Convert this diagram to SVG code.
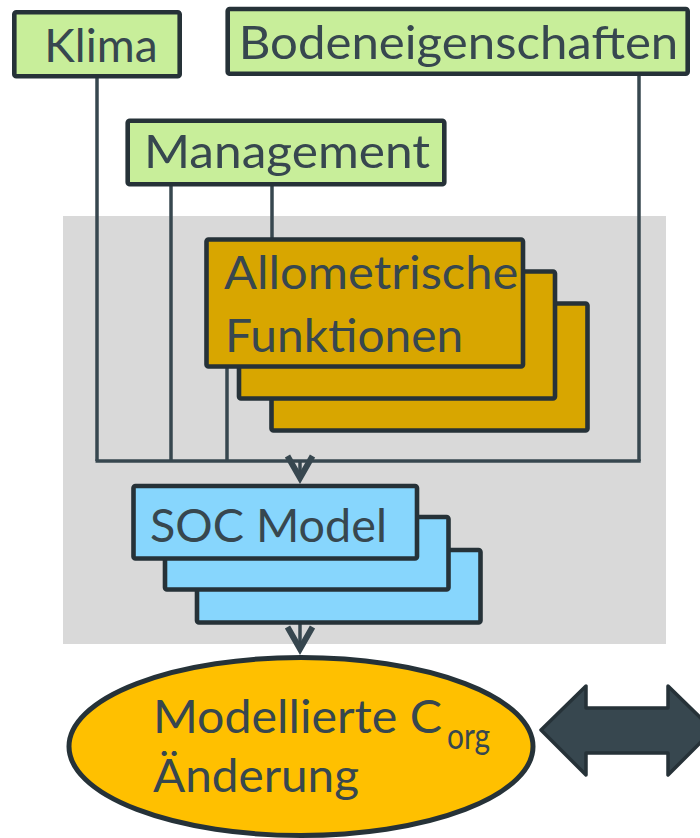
<svg xmlns="http://www.w3.org/2000/svg" width="700" height="838" viewBox="0 0 700 838">
<defs>
<style>
.lbl{font-family:Lato,"Open Sans","Liberation Sans",sans-serif;font-size:47px;fill:#37474f}
.box{stroke:#263238;stroke-width:4.6;stroke-linejoin:round}
.green{fill:#c8ee9a}
.allo{fill:#d8a600}
.soc{fill:#87d6fd}
.conn{fill:none;stroke:#37474f;stroke-width:3.5}
</style>
<marker id="arr" markerUnits="userSpaceOnUse" viewBox="-30 -18 40 36" markerWidth="40" markerHeight="36" refX="0" refY="0" orient="auto" overflow="visible">
<path d="M-22,-12.5 L0,0 L-22,12.5" fill="none" stroke="#37474f" stroke-width="6" stroke-linejoin="miter"/>
</marker>
</defs>
<rect id="panel" x="63" y="216" width="603" height="428" fill="#d9d9d9"/>
<g id="connectors">
<path class="conn" d="M97,77 V461"/>
<path class="conn" d="M171,185 V461"/>
<path class="conn" d="M272,185 V238"/>
<path class="conn" d="M227,368 V461"/>
<path class="conn" d="M639,75 V461"/>
<path class="conn" d="M95.5,461 H640.7"/>
<path class="conn" d="M300,461 V478" stroke-width="4" marker-end="url(#arr)"/>
<path class="conn" d="M300,624 V649" stroke-width="4" marker-end="url(#arr)"/>
</g>
<g id="klima">
<rect class="box green" x="14.3" y="12.3" width="165.4" height="64" rx="2"/>
<text class="lbl" x="44.3" y="62.3" textLength="113.4" lengthAdjust="spacingAndGlyphs">Klima</text>
</g>
<g id="bodeneigenschaften">
<rect class="box green" x="227.7" y="9" width="460" height="64.7" rx="2"/>
<text class="lbl" x="238.7" y="59.3" textLength="439.6" lengthAdjust="spacingAndGlyphs">Bodeneigenschaften</text>
</g>
<g id="management">
<rect class="box green" x="127.7" y="120.7" width="316.6" height="63.6" rx="2"/>
<text class="lbl" x="144" y="168.3" textLength="286" lengthAdjust="spacingAndGlyphs">Management</text>
</g>
<g id="allometrische">
<rect class="box allo" x="271.5" y="303.5" width="316" height="127" rx="2"/>
<rect class="box allo" x="239" y="271.5" width="316" height="127" rx="2"/>
<rect class="box allo" x="206.5" y="239.5" width="316.5" height="127" rx="2"/>
<text class="lbl" x="224" y="289" textLength="294.3" lengthAdjust="spacingAndGlyphs">Allometrische</text>
<text class="lbl" x="225" y="352" textLength="238.3" lengthAdjust="spacingAndGlyphs">Funktionen</text>
</g>
<g id="soc-model">
<rect class="box soc" x="197" y="550" width="283.5" height="72.5" rx="2"/>
<rect class="box soc" x="165" y="517" width="283.5" height="72.5" rx="2"/>
<rect class="box soc" x="133.5" y="486" width="283.5" height="72.5" rx="2"/>
<text class="lbl" x="150" y="542.3" textLength="237" lengthAdjust="spacingAndGlyphs">SOC Model</text>
</g>
<g id="modellierte">
<ellipse cx="301" cy="746.5" rx="232" ry="89" fill="#ffc000" stroke="#263238" stroke-width="5"/>
<text class="lbl" x="153" y="733.3" textLength="289" lengthAdjust="spacingAndGlyphs">Modellierte C</text>
<text class="lbl" x="447" y="749" style="font-size:36px" textLength="43" lengthAdjust="spacingAndGlyphs">org</text>
<text class="lbl" x="153" y="792" textLength="206" lengthAdjust="spacingAndGlyphs">Änderung</text>
</g>
<g id="double-arrow">
<polygon points="541,730 586,686 586,708 668,708 668,686 713,730 668,775 668,753 586,753 586,775" fill="#37474f" stroke="#263238" stroke-width="3.5" stroke-linejoin="round"/>
</g>
</svg>
